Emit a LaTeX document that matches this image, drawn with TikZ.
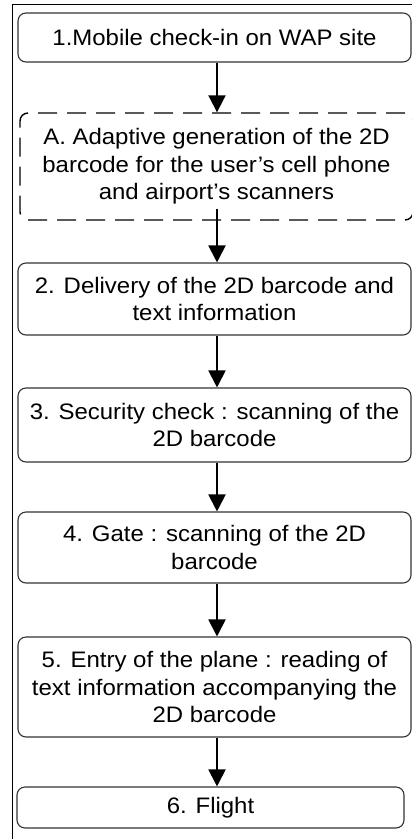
\documentclass[tikz,border=0pt]{standalone}
\usepackage{fontspec}
\setmainfont[FakeStretch=1.07]{Liberation Sans}
\usetikzlibrary{arrows.meta}
\begin{document}
\begin{tikzpicture}[x=1pt,y=-1pt,
  stepbox/.style={draw=black!80, line width=1.1pt, rounded corners=8pt,
    align=center, inner sep=0pt, minimum width=393pt,
    font=\fontsize{22.4}{27.5}\selectfont},
  optbox/.style={stepbox, draw=black, line width=1.4pt, dash pattern=on 19pt off 10pt},
  flow/.style={line width=2pt, -{Triangle[width=17pt,length=17pt]}}]
\useasboundingbox (0,0) rectangle (412,839);

% frame
\draw[line width=1.4pt] (12.5,839) -- (12.5,4.5) -- (412,4.5);

% process steps
\node[stepbox, minimum height=49pt]  (b1) at (214.5,37.5) {1.Mobile check-in on WAP site};
\node[optbox,  minimum height=107pt] (bA) at (216.5,166.5)
  {A. Adaptive generation of the 2D\\barcode for the user's cell phone\\and airport's scanners};
\node[stepbox, minimum height=72pt]  (b2) at (214.5,299) {2. Delivery of the 2D barcode and\\text information};
\node[stepbox, minimum height=74pt]  (b3) at (214.5,425) {3. Security check : scanning of the\\2D barcode};
\node[stepbox, minimum height=71pt]  (b4) at (214.5,547.5) {4. Gate : scanning of the 2D\\barcode};
\node[stepbox, minimum height=100pt] (b5) at (214.5,687)
  {5. Entry of the plane : reading of\\text information accompanying the\\2D barcode};
\node[stepbox, minimum height=41pt, minimum width=387pt] (b6) at (210.5,807.5) {6. Flight};

% flow arrows
\coordinate (spine) at (217,0);
\draw[flow] (b1.south -| spine) -- (bA.north -| spine);
\draw[flow] ([yshift=12pt]bA.south -| spine) -- (b2.north -| spine);
\draw[flow] (b2.south -| spine) -- (b3.north -| spine);
\draw[flow] (b3.south -| spine) -- (b4.north -| spine);
\draw[flow] (b4.south -| spine) -- (b5.north -| spine);
\draw[flow] (b5.south -| spine) -- (b6.north -| spine);
\end{tikzpicture}
\end{document}
